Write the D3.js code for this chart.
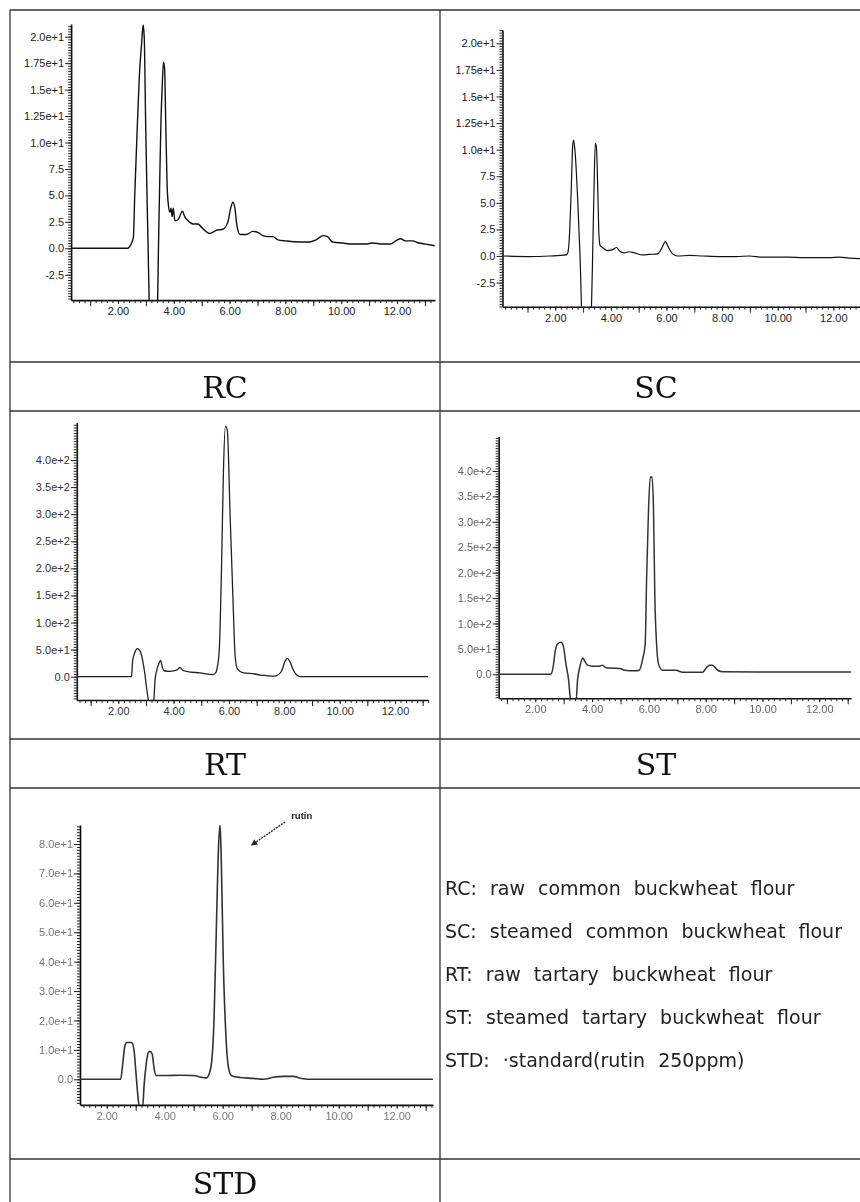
<!DOCTYPE html>
<html lang="en">
<head>
<meta charset="UTF-8">
<title>HPLC chromatograms of buckwheat flours</title>
<style>
  body{margin:0;background:#fff;}
  svg{display:block;}
</style>
<script src="https://cdn.jsdelivr.net/npm/d3@7"></script>
</head>
<body>
<script>
// retention time (min) vs detector signal
const rcData = [[0.32,0],[2.35,0],[2.4,0.1],[2.55,1],[2.6,5],[2.67,10],[2.76,16],[2.85,19.5],[2.9,21.1],[2.94,20],[2.99,12],[3.04,5],[3.08,0],[3.13,-6],[3.2,-8],
  [3.36,-8],[3.42,-5],[3.45,0],[3.5,7],[3.54,12],[3.58,15],[3.63,17.6],[3.67,17],[3.71,12],[3.76,6],[3.81,4],[3.86,3.4],[3.9,3.8],[3.94,3],[3.98,3.8],
  [4.04,2.6],[4.15,2.7],[4.31,3.5],[4.39,3.0],[4.51,2.6],[4.69,2.3],[4.87,2.3],[4.99,2.0],[5.29,1.4],[5.52,1.7],[5.76,1.8],[5.94,2.5],[6.04,3.8],[6.12,4.35],
  [6.19,3.8],[6.26,2.2],[6.38,1.3],[6.6,1.3],[6.83,1.6],[7.01,1.5],[7.19,1.2],[7.37,1.1],[7.55,1.1],[7.73,0.8],[8.02,0.7],[8.5,0.6],[8.86,0.6],[9.1,0.8],
  [9.36,1.2],[9.51,1.1],[9.69,0.6],[10.05,0.5],[10.4,0.4],[10.88,0.4],[11.12,0.5],[11.48,0.4],[11.77,0.4],[12.01,0.8],[12.13,0.9],[12.31,0.7],[12.55,0.7],
  [12.79,0.5],[13.02,0.4],[13.36,0.25]];
const scData = [[0.1,0],[1.0,-0.05],[1.8,0],[2.4,0.1],[2.45,0.3],[2.5,1.5],[2.57,6],[2.63,10.5],[2.66,10.9],[2.72,9.5],[2.81,5],[2.89,0],[2.96,-6],[3.05,-8],
  [3.22,-8],[3.3,-5],[3.35,1],[3.39,6],[3.44,10.6],[3.48,10.2],[3.53,6],[3.57,2],[3.61,1.0],[3.7,0.8],[3.88,0.5],[4.06,0.6],[4.21,0.8],[4.3,0.5],[4.48,0.3],
  [4.66,0.4],[4.84,0.3],[5.14,0.1],[5.38,0.15],[5.68,0.2],[5.84,0.8],[5.96,1.35],[6.07,0.8],[6.22,0.2],[6.4,0],[6.82,0.05],[7.3,0],[7.9,-0.05],[8.5,-0.05],
  [8.98,0],[9.46,-0.1],[9.94,-0.1],[10.4,-0.1],[10.9,-0.15],[11.38,-0.15],[11.86,-0.15],[12.22,-0.1],[12.58,-0.2],[12.96,-0.25]];
const rtData = [[0.5,0],[2.48,0],[2.5,15],[2.52,30],[2.6,45],[2.69,52],[2.78,48],[2.88,30],[2.96,5],[3.02,-20],[3.11,-48],[3.2,-55],[3.28,-45],[3.33,-5],
  [3.39,12],[3.47,25],[3.53,30],[3.59,18],[3.65,11],[3.87,10],[4.11,12],[4.23,17],[4.33,12],[4.47,10],[4.95,7],[5.43,4],[5.53,8],[5.58,18],[5.65,50],
  [5.73,200],[5.8,380],[5.87,462],[5.94,455],[6.04,300],[6.16,120],[6.22,40],[6.3,15],[6.52,7],[6.94,5],[7.12,3],[7.36,2],[7.6,1],[7.72,2],[7.9,10],
  [8.02,28],[8.11,34],[8.2,28],[8.33,12],[8.45,3],[8.57,0],[13.2,0]];
const stData = [[0.71,0],[2.55,0],[2.63,15],[2.7,45],[2.79,60],[2.91,63],[2.99,55],[3.08,20],[3.17,-10],[3.23,-45],[3.31,-58],[3.43,-55],[3.49,-10],[3.57,15],
  [3.67,32],[3.75,25],[3.84,18],[4.02,16],[4.25,16],[4.37,18],[4.49,13],[4.72,12],[5.02,11],[5.13,8],[5.54,7],[5.66,8],[5.78,30],[5.87,60],[5.92,190],
  [5.99,330],[6.05,388],[6.11,388],[6.16,330],[6.21,150],[6.27,60],[6.34,20],[6.48,8],[6.95,8],[7.19,4],[7.89,4],[8.01,12],[8.13,18],[8.24,18],[8.42,8],
  [8.6,5],[10.5,4.5],[13.12,4.5]];
const stdData = [[1.08,0],[2.48,0],[2.55,0.5],[2.62,1.1],[2.69,1.25],[2.86,1.25],[2.94,1.0],[3.01,0.2],[3.07,-0.5],[3.13,-0.95],[3.24,-0.95],[3.29,-0.2],
  [3.36,0.5],[3.43,0.9],[3.49,0.95],[3.57,0.85],[3.63,0.4],[3.7,0.13],[4.07,0.13],[4.53,0.14],[4.99,0.13],[5.22,0.08],[5.43,0.05],[5.54,0.2],[5.62,0.6],
  [5.7,2.0],[5.79,5.5],[5.86,8.0],[5.91,8.65],[5.95,7.5],[6.02,4.0],[6.11,1.5],[6.2,0.4],[6.31,0.12],[6.6,0.06],[7.06,0.03],[7.4,0],[7.75,0.07],[8.09,0.1],
  [8.44,0.1],[8.72,0.03],[9.13,0],[13.25,0]];

// tick labels
const timeTicks = [2, 4, 6, 8, 10, 12];
const timeLabels = ["2.00", "4.00", "6.00", "8.00", "10.00", "12.00"];
const commonTicks = [-2.5, 0, 2.5, 5, 7.5, 10, 12.5, 15, 17.5, 20];
const commonLabels = ["-2.5", "0.0", "2.5", "5.0", "7.5", "1.0e+1", "1.25e+1", "1.5e+1", "1.75e+1", "2.0e+1"];
const tartaryTicks = [0, 50, 100, 150, 200, 250, 300, 350, 400];
const tartaryLabels = ["0.0", "5.0e+1", "1.0e+2", "1.5e+2", "2.0e+2", "2.5e+2", "3.0e+2", "3.5e+2", "4.0e+2"];
const stdTicks = [0, 1, 2, 3, 4, 5, 6, 7, 8];
const stdLabels = ["0.0", "1.0e+1", "2.0e+1", "3.0e+1", "4.0e+1", "5.0e+1", "6.0e+1", "7.0e+1", "8.0e+1"];

const sampleNames = ["RC", "SC", "RT", "ST", "STD"];
const legendLines = [
  "RC: raw common buckwheat flour",
  "SC: steamed common buckwheat flour",
  "RT: raw tartary buckwheat flour",
  "ST: steamed tartary buckwheat flour",
  "STD: \u00b7standard(rutin 250ppm)"
];

const W = 860, H = 1202;
const svg = d3.select("body").append("svg").attr("width", W).attr("height", H);
const defs = svg.append("defs");
defs.append("filter").attr("id", "soft")
  .append("feGaussianBlur").attr("stdDeviation", 0.55);
defs.append("marker").attr("id", "head").attr("viewBox", "0 0 10 10")
  .attr("refX", 8).attr("refY", 5).attr("markerWidth", 5).attr("markerHeight", 5)
  .attr("orient", "auto-start-reverse")
  .append("path").attr("d", "M0,0L10,5L0,10z").attr("fill", "#222");

// table grid
const colLines = [10, 440];
const rowLines = [10, 362, 411, 739, 788, 1159];
const grid = svg.append("g").attr("stroke", "#333").attr("stroke-width", 1.3);
rowLines.forEach(yy => grid.append("line").attr("x1", 10).attr("x2", W).attr("y1", yy).attr("y2", yy));
colLines.forEach(xx => grid.append("line").attr("x1", xx).attr("x2", xx).attr("y1", 10).attr("y2", H));

// chart layout: x pixel of 2.00 and 12.00, y pixel of two reference values
const charts = [
  {name: "rc", data: rcData, xPx: [118, 397], xExt: [0.32, 13.36], yRef: [0, 20], yPx: [248.3, 36.7], yExt: [-4.9, 21.2],
   yTicks: commonTicks, yLabels: commonLabels, minor: 0.25, stroke: "#111", sw: 1.4, text: "#222"},
  {name: "sc", data: scData, xPx: [555.3, 833.3], xExt: [0.1, 12.96], yRef: [0, 20], yPx: [256, 43.3], yExt: [-4.77, 21.25],
   yTicks: commonTicks, yLabels: commonLabels, minor: 0.25, stroke: "#111", sw: 1.2, text: "#222"},
  {name: "rt", data: rtData, xPx: [118.3, 395], xExt: [0.5, 13.2], yRef: [0, 400], yPx: [676.7, 460], yExt: [-43, 469],
   yTicks: tartaryTicks, yLabels: tartaryLabels, minor: 5, stroke: "#222", sw: 1.3, text: "#333"},
  {name: "st", data: stData, xPx: [535.3, 819.3], xExt: [0.71, 13.12], yRef: [0, 400], yPx: [674.3, 471], yExt: [-47, 467.7],
   yTicks: tartaryTicks, yLabels: tartaryLabels, minor: 5, stroke: "#333", sw: 1.5, text: "#666", soft: true},
  {name: "std", data: stdData, xPx: [106.7, 396.7], xExt: [1.08, 13.25], yRef: [0, 8], yPx: [1079.3, 844], yExt: [-0.87, 8.65],
   yTicks: stdTicks, yLabels: stdLabels, minor: 0.1, stroke: "#333", sw: 1.6, text: "#777", soft: true}
];

function stepValues(ext, step) {
  const a = Math.ceil(ext[0] / step - 1e-9), b = Math.floor(ext[1] / step + 1e-9);
  return d3.range(a, b + 1).map(i => +(i * step).toFixed(4));
}

function drawChart(c) {
  const xr = d3.scaleLinear().domain([2, 12]).range(c.xPx);
  const yr = d3.scaleLinear().domain(c.yRef).range(c.yPx);
  const x = d3.scaleLinear().domain(c.xExt).range(c.xExt.map(xr));
  const y = d3.scaleLinear().domain(c.yExt).range(c.yExt.map(yr));
  const g = svg.append("g").attr("class", "chart-" + c.name);
  if (c.soft) g.attr("filter", "url(#soft)");

  const [left, right] = x.range();
  const [bottom, top] = y.range();
  defs.append("clipPath").attr("id", "clip-" + c.name)
    .append("rect").attr("x", left).attr("y", top).attr("width", right - left).attr("height", bottom - top);

  // y axis: dense minor ruler, then labelled ticks
  g.append("g").attr("transform", `translate(${left},0)`)
    .call(d3.axisLeft(y).tickValues(stepValues(c.yExt, c.minor)).tickSize(3).tickSizeOuter(0).tickFormat(""));
  g.append("g").attr("class", "ylab").attr("transform", `translate(${left},0)`)
    .call(d3.axisLeft(y).tickValues(c.yTicks).tickSize(6).tickSizeOuter(0).tickFormat((d, i) => c.yLabels[i]))
    .call(a => a.select(".domain").remove());

  // x axis: small ticks every 0.2, taller at odd minutes, labels at even minutes
  const xg = g.append("g").attr("transform", `translate(0,${bottom})`);
  xg.call(d3.axisBottom(x).tickValues(stepValues(c.xExt, 0.2)).tickSize(3).tickSizeOuter(0).tickFormat(""));
  xg.append("g").call(d3.axisBottom(x).tickValues(stepValues(c.xExt, 1).filter(v => v % 2 === 1)).tickSize(6).tickSizeOuter(0).tickFormat(""))
    .call(a => a.select(".domain").remove());
  xg.append("g").attr("class", "xlab")
    .call(d3.axisBottom(x).tickValues(timeTicks).tickSize(4).tickSizeOuter(0).tickFormat((d, i) => timeLabels[i]))
    .call(a => a.select(".domain").remove());

  g.selectAll(".domain").attr("stroke", "#111").attr("stroke-width", 1.6);
  g.selectAll(".tick line").attr("stroke", "#222").attr("stroke-width", 1);
  g.selectAll(".tick text").attr("fill", c.text).attr("font-family", "Liberation Sans, Arial, sans-serif").attr("font-size", 11);
  g.selectAll(".ylab .tick text").attr("x", -7);
  g.selectAll(".xlab .tick text").attr("y", 7);

  g.append("path").datum(c.data)
    .attr("clip-path", `url(#clip-${c.name})`)
    .attr("fill", "none").attr("stroke", c.stroke).attr("stroke-width", c.sw).attr("stroke-linejoin", "round")
    .attr("d", d3.line().x(d => x(d[0])).y(d => y(d[1])).curve(d3.curveMonotoneX));
  return {x, y, g};
}

const drawn = charts.map(drawChart);

// rutin annotation on the standard
const std = drawn[4];
std.g.append("path")
  .attr("d", d3.line()([[std.x(8.15), std.y(8.75)], [std.x(7.01), std.y(7.97)]]))
  .attr("stroke", "#222").attr("stroke-width", 1.3).attr("stroke-dasharray", "2,1")
  .attr("marker-end", "url(#head)");
std.g.append("text").attr("x", std.x(8.36)).attr("y", std.y(8.85))
  .attr("font-family", "Liberation Sans, Arial, sans-serif").attr("font-weight", "bold").attr("font-size", 9.5)
  .attr("fill", "#222").text("rutin");

// sample name cells
const colCenters = [(colLines[0] + colLines[1]) / 2, 656];
const labelRows = [[rowLines[1], rowLines[2]], [rowLines[3], rowLines[4]], [rowLines[5], 1207]];
sampleNames.forEach((name, i) => {
  const r = labelRows[Math.floor(i / 2)];
  svg.append("text")
    .attr("x", colCenters[i % 2]).attr("y", (r[0] + r[1]) / 2 + 11)
    .attr("text-anchor", "middle")
    .attr("font-family", "DejaVu Serif, serif").attr("font-size", 30).attr("fill", "#111")
    .text(name);
});

// legend in the empty cell
svg.append("g").selectAll("text").data(legendLines).join("text")
  .attr("x", 445).attr("y", (d, i) => 895 + i * 42.9)
  .attr("font-family", "DejaVu Sans, sans-serif").attr("font-size", 19)
  .attr("word-spacing", 7).attr("fill", "#222")
  .text(d => d);
</script>
</body>
</html>
